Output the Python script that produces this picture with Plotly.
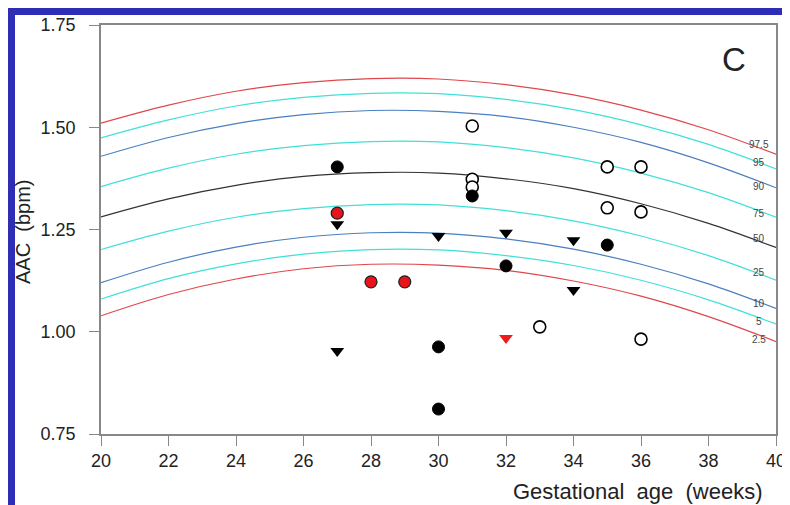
import plotly.graph_objects as go

weeks = [20, 22, 24, 26, 28, 30, 32, 34, 36, 38, 40]
centile_names = ["97.5", "95", "90", "75", "50", "25", "10", "5", "2.5"]
c975 = [1.510, 1.554, 1.588, 1.609, 1.619, 1.618, 1.604, 1.579, 1.542, 1.494, 1.434]
c95 = [1.474, 1.518, 1.552, 1.573, 1.583, 1.582, 1.568, 1.543, 1.506, 1.458, 1.398]
c90 = [1.429, 1.475, 1.509, 1.531, 1.541, 1.539, 1.526, 1.500, 1.463, 1.413, 1.352]
c75 = [1.355, 1.400, 1.434, 1.455, 1.465, 1.464, 1.450, 1.425, 1.388, 1.340, 1.280]
c50 = [1.281, 1.325, 1.358, 1.380, 1.389, 1.388, 1.374, 1.350, 1.313, 1.265, 1.206]
c25 = [1.201, 1.246, 1.280, 1.301, 1.311, 1.310, 1.296, 1.271, 1.234, 1.186, 1.126]
c10 = [1.120, 1.170, 1.207, 1.231, 1.242, 1.241, 1.227, 1.202, 1.165, 1.117, 1.057]
c5 = [1.080, 1.130, 1.166, 1.190, 1.201, 1.200, 1.186, 1.162, 1.126, 1.078, 1.019]
c25l = [1.039, 1.091, 1.129, 1.154, 1.165, 1.163, 1.150, 1.124, 1.087, 1.037, 0.976]
centiles = [c975, c95, c90, c75, c50, c25, c10, c5, c25l]
label_y = [1.459, 1.415, 1.356, 1.290, 1.227, 1.144, 1.070, 1.024, 0.982]

filled_x = [27, 31, 30, 30, 32, 35]
filled_y = [1.403, 1.332, 0.963, 0.811, 1.161, 1.212]
red_x = [27, 28, 29]
red_y = [1.290, 1.122, 1.122]
open_x = [31, 31, 31, 33, 35, 36, 35, 36, 36]
open_y = [1.503, 1.373, 1.354, 1.012, 1.403, 1.403, 1.303, 1.293, 0.982]
tri_x = [27, 30, 32, 27, 34, 34]
tri_y = [1.263, 1.234, 1.242, 0.953, 1.224, 1.102]
redtri_x = [32]
redtri_y = [0.985]

RED = "#e0474c"
CYAN = "#40e0d8"
BLUE = "#4a7fc1"
BLACK = "#333333"
FRAME_BLUE = "#2f2db5"
curve_colors = [RED, CYAN, BLUE, CYAN, BLACK, CYAN, BLUE, CYAN, RED]

# the page body has an 8px margin: the figure starts at window (8, 8)
OFF = 8
W, H = 790 - OFF, 505 - OFF
L, T, R, B = 101 - OFF, 25 - OFF, 776 - OFF, 434 - OFF   # plot area in figure px
PW, PH = R - L, B - T


def px(xw):
    return (xw - OFF - L) / PW


def py(yw):
    return (B - (yw - OFF)) / PH


fig = go.Figure()
for name, vals, col in zip(centile_names, centiles, curve_colors):
    fig.add_trace(go.Scatter(x=weeks, y=vals, mode="lines", name=name,
                             line=dict(color=col, width=1.2, shape="spline"),
                             hoverinfo="skip"))

fig.add_trace(go.Scatter(x=open_x, y=open_y, mode="markers",
                         marker=dict(symbol="circle", size=12, color="white",
                                     line=dict(color="black", width=1.6))))
fig.add_trace(go.Scatter(x=filled_x, y=filled_y, mode="markers",
                         marker=dict(symbol="circle", size=12, color="black",
                                     line=dict(color="black", width=1))))
fig.add_trace(go.Scatter(x=red_x, y=red_y, mode="markers",
                         marker=dict(symbol="circle", size=12, color="#e8141a",
                                     line=dict(color="#222", width=1.3))))
fig.add_trace(go.Scatter(x=tri_x, y=tri_y, mode="markers",
                         marker=dict(symbol="triangle-down", size=12, color="black",
                                     line=dict(width=0))))
fig.add_trace(go.Scatter(x=redtri_x, y=redtri_y, mode="markers",
                         marker=dict(symbol="triangle-down", size=12, color="#ee1c1c",
                                     line=dict(width=0))))

FONT = "Liberation Sans, Arial"
annotations = []
for name, ly in zip(centile_names, label_y):
    annotations.append(dict(x=39.5, y=ly, xref="x", yref="y", text=name,
                            xanchor="center", yanchor="middle",
                            showarrow=False, font=dict(size=10, color="#444", family=FONT)))
annotations.append(dict(x=px(734), y=py(59), xref="paper", yref="paper",
                        text="C", showarrow=False, xanchor="center", yanchor="middle",
                        font=dict(size=33, color="#222", family=FONT)))
annotations.append(dict(x=px(637), y=py(492), xref="paper", yref="paper",
                        text="Gestational\u00a0\u00a0age\u00a0\u00a0(weeks)", showarrow=False,
                        xanchor="center", yanchor="middle",
                        font=dict(size=22, color="#222", family=FONT)))
annotations.append(dict(x=px(23), y=py(232), xref="paper", yref="paper",
                        text="AAC\u00a0\u00a0(bpm)", showarrow=False, textangle=-90,
                        xanchor="center", yanchor="middle",
                        font=dict(size=20, color="#222", family=FONT)))

shapes = [
    # white panel inside the blue slide frame
    dict(type="rect", xref="paper", yref="paper", layer="below",
         x0=px(15), x1=px(800), y0=py(520), y1=py(15),
         fillcolor="white", line=dict(width=0)),
]

fig.update_layout(
    width=W, height=H,
    margin=dict(l=L, r=W - R, t=T, b=H - B, autoexpand=False),
    paper_bgcolor=FRAME_BLUE,
    plot_bgcolor="white",
    showlegend=False,
    annotations=annotations,
    shapes=shapes,
    font=dict(family=FONT, color="#222"),
)
fig.update_xaxes(range=[20, 40], tickvals=[20, 22, 24, 26, 28, 30, 32, 34, 36, 38, 40],
                 showgrid=False, zeroline=False, showline=True, mirror=True,
                 linecolor="#888", linewidth=1.5, ticks="outside", ticklen=10,
                 tickcolor="#888", tickwidth=1.2, tickfont=dict(size=18, color="#222"),
                 ticklabeloverflow="allow", automargin=False)
fig.update_yaxes(range=[0.75, 1.75], tickvals=[0.75, 1.0, 1.25, 1.5, 1.75],
                 ticktext=["0.75", "1.00", "1.25", "1.50", "1.75"],
                 showgrid=False, zeroline=False, showline=True, mirror=True,
                 linecolor="#888", linewidth=1.5, ticks="outside", ticklen=10,
                 tickcolor="#888", tickwidth=1.2, tickfont=dict(size=18, color="#222"),
                 ticklabelstandoff=10, ticklabeloverflow="allow", automargin=False)

fig.write_html("out.html")
